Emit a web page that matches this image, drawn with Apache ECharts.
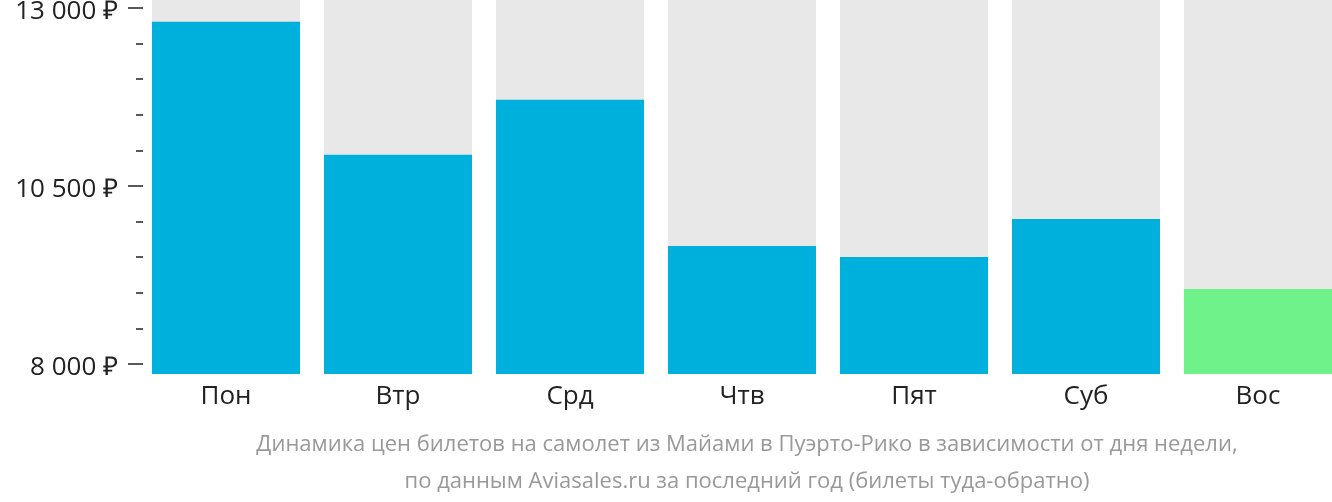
<!DOCTYPE html>
<html>
<head>
<meta charset="utf-8">
<script src="https://cdn.jsdelivr.net/npm/echarts@6/dist/echarts.min.js"></script>
<style>html,body{margin:0;padding:0;background:#fff}#c{width:1332px;height:502px}</style>
</head>
<body>
<div id="c"></div>
<script>
const categories = ['Пон', 'Втр', 'Срд', 'Чтв', 'Пят', 'Суб', 'Вос'];
const prices = [12807, 10938, 11711, 9659, 9504, 10038, 9054];
const highlightIndex = 6;
const tickMin = 8000;
const tickMax = 13000;
const tickStep = 2500;
const caption = 'Динамика цен билетов на самолет из Майами в Пуэрто-Рико в зависимости от дня недели,\nпо данным Aviasales.ru за последний год (билеты туда-обратно)';

// scale: ticks grid spans 356px for 5000; bars grid extends 10px below and 8px above
const perPx = (tickMax - tickMin) / 356;
const barMin = tickMin - 10 * perPx;
const barMax = tickMax + 8 * perPx;

const chart = echarts.init(document.getElementById('c'));
const font = '"Open Sans", sans-serif';
chart.setOption({
  animation: false,
  title: {
    text: caption,
    left: 742,
    top: 421,
    textAlign: 'center',
    textStyle: { color: '#999', fontSize: 22, fontWeight: 'normal', fontFamily: font, lineHeight: 37 }
  },
  grid: [
    { left: 140, top: 0, width: 1204, height: 374, outerBoundsMode: 'none', containLabel: false },
    { left: 143, top: 8, width: 1189, height: 356, outerBoundsMode: 'none', containLabel: false }
  ],
  xAxis: [
    {
      gridIndex: 0, type: 'category', data: categories,
      axisLine: { show: false }, axisTick: { show: false },
      axisLabel: { color: '#222', fontSize: 26, fontFamily: font, margin: 10 }
    },
    { gridIndex: 1, type: 'category', data: categories, show: false }
  ],
  yAxis: [
    { gridIndex: 0, type: 'value', min: barMin, max: barMax, show: false },
    {
      gridIndex: 1, type: 'value', min: tickMin, max: tickMax, interval: tickStep,
      axisLine: { show: false },
      axisTick: { show: true, length: 15, lineStyle: { color: '#222', width: 1.5 } },
      minorTick: { show: true, splitNumber: 5, length: 7, lineStyle: { color: '#222', width: 1.5 } },
      splitLine: { show: false },
      axisLabel: {
        color: '#222', fontSize: 26, fontFamily: font, margin: 25,
        formatter: v => '{t|' + String(v).replace(/\B(?=(\d{3})+(?!\d))/g, ' ') + ' ₽}',
        rich: { t: { color: '#222', fontSize: 26, fontFamily: font, padding: [8, 0, 0, 0] } }
      }
    }
  ],
  series: [{
    type: 'bar',
    xAxisIndex: 0, yAxisIndex: 0,
    barWidth: 148,
    showBackground: true,
    backgroundStyle: { color: '#e8e8e8' },
    data: prices.map((v, i) => ({ value: v, itemStyle: { color: i === highlightIndex ? '#6ff28a' : '#00b0dc' } }))
  }]
});
</script>
</body>
</html>
